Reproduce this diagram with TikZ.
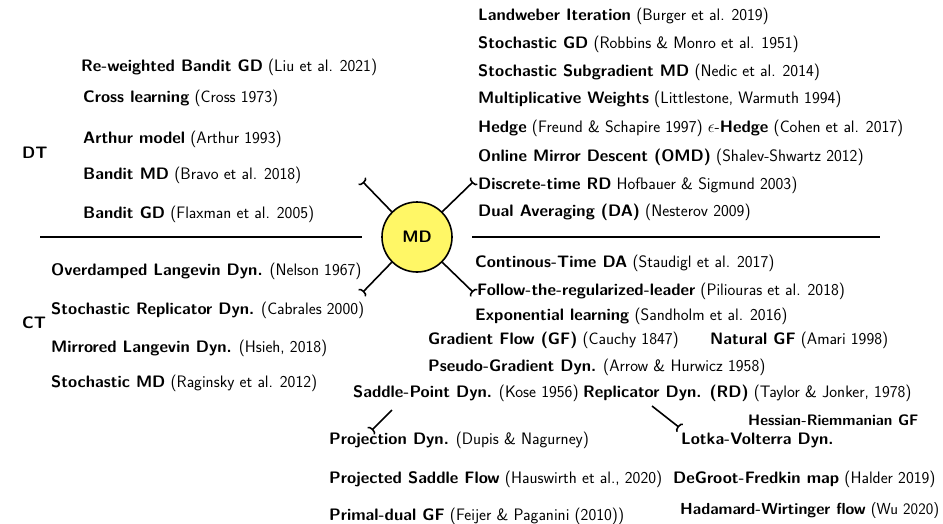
\documentclass[tikz,border=0pt]{standalone}
\usepackage{fontspec}
\usetikzlibrary{arrows.meta}
\newcommand{\ent}[2]{\textbf{#1} #2}
\begin{document}
\begin{tikzpicture}[x=1pt,y=-1pt,
  sz/.style={font=\fontsize{#1}{#1}\selectfont\sffamily},
  lbl/.style={anchor=west, inner sep=0pt, sz=16.6},
  conn/.style={line width=1.6pt, -{Arc Barb[reversed,length=3pt,width=11pt]}},
  rule/.style={line width=1.6pt},
  mdnode/.style={circle, draw, line width=1.6pt, fill=yellow!60, minimum size=70pt, inner sep=0pt,
    font=\fontsize{16.6}{19}\selectfont\sffamily\bfseries}]
\useasboundingbox (0,0) rectangle (943,523);

% central node and the DT / CT divider
\node[mdnode] (md) at (417,237) {MD};
\coordinate (ruleL) at (40,237);
\coordinate (ruleLe) at (362,237);
\coordinate (ruleRs) at (472,237);
\coordinate (ruleR) at (880,237);
\draw[rule] (ruleL) -- (ruleLe);
\draw[rule] (ruleRs) -- (ruleR);

% labels of the two halves
\node[lbl] (dt) at (22,153) {\textbf{DT}};
\node[lbl] (ct) at (22,323) {\textbf{CT}};

% discrete time, left
\node[lbl] (rwb) at (81,67)  {\ent{Re-weighted Bandit GD}{(Liu et al. 2021)}};
\node[lbl] (cro) at (83,98)  {\ent{Cross learning}{(Cross 1973)}};
\node[lbl] (art) at (83,139) {\ent{Arthur model}{(Arthur 1993)}};
\node[lbl] (bmd) at (83,175) {\ent{Bandit MD}{(Bravo et al. 2018)}};
\node[lbl] (bgd) at (83,214) {\ent{Bandit GD}{(Flaxman et al. 2005)}};

% discrete time, right
\node[lbl] (lwi) at (478,16)  {\ent{Landweber Iteration}{(Burger et al. 2019)}};
\node[lbl] (sgd) at (478,44)  {\ent{Stochastic GD}{(Robbins \& Monro et al. 1951)}};
\node[lbl] (ssm) at (478,72)  {\ent{Stochastic Subgradient MD}{(Nedic et al. 2014)}};
\node[lbl] (mwu) at (478,99)  {\ent{Multiplicative Weights}{(Littlestone, Warmuth 1994)}};
\node[lbl] (hdg) at (478,128) {\ent{Hedge}{(Freund \& Schapire 1997) $\epsilon$-\textbf{Hedge} (Cohen et al. 2017)}};
\node[lbl] (omd) at (478,157) {\ent{Online Mirror Descent (OMD)}{(Shalev-Shwartz 2012)}};
\node[lbl] (drd) at (478,185) {\ent{Discrete-time RD}{Hofbauer \& Sigmund 2003)}};
\node[lbl] (dav) at (478,212) {\ent{Dual Averaging (DA)}{(Nesterov 2009)}};

% continuous time, left
\node[lbl] (old) at (51,271) {\ent{Overdamped Langevin Dyn.}{(Nelson 1967)}};
\node[lbl] (srd) at (51,310) {\ent{Stochastic Replicator Dyn.}{(Cabrales 2000)}};
\node[lbl] (mld) at (51,348) {\ent{Mirrored Langevin Dyn.}{(Hsieh, 2018)}};
\node[lbl] (smd) at (51,383) {\ent{Stochastic MD}{(Raginsky et al. 2012)}};

% continuous time, right
\node[lbl] (ctd) at (475,263) {\ent{Continous-Time DA}{(Staudigl et al. 2017)}};
\node[lbl] (ftrl) at (477,291) {\ent{Follow-the-regularized-leader}{(Piliouras et al. 2018)}};
\node[lbl] (exl) at (475,316) {\ent{Exponential learning}{(Sandholm et al. 2016)}};
\node[lbl] (gfl) at (428,340) {\ent{Gradient Flow (GF)}{(Cauchy 1847)}};
\node[lbl] (ngf) at (710,340) {\ent{Natural GF}{(Amari 1998)}};
\node[lbl] (pgd) at (428,367) {\ent{Pseudo-Gradient Dyn.}{(Arrow \& Hurwicz 1958)}};
\node[lbl] (spd) at (353,393) {\ent{Saddle-Point Dyn.}{(Kose 1956)}};
\node[lbl] (rep) at (583,393) {\ent{Replicator Dyn. (RD)}{(Taylor \& Jonker, 1978)}};
\node[lbl, sz=15.2] (hrg) at (748,420) {\textbf{Hessian-Riemmanian GF}};
\node[lbl] (lvd) at (681,440) {\textbf{Lotka-Volterra Dyn.}};
\node[lbl] (prj) at (329,440) {\ent{Projection Dyn.}{(Dupis \& Nagurney)}};
\node[lbl] (psf) at (329,479) {\ent{Projected Saddle Flow}{(Hauswirth et al., 2020)}};
\node[lbl] (dgf) at (673,479) {\ent{DeGroot-Fredkin map}{(Halder 2019)}};
\node[lbl] (pdg) at (329,516) {\ent{Primal-dual GF}{(Feijer \& Paganini (2010))}};
\node[lbl, sz=16] (hwf) at (680,510) {\ent{Hadamard-Wirtinger flow}{(Wu 2020)}};

% connector ends
\coordinate (endTL) at (362,181);
\coordinate (endTR) at (474,181);
\coordinate (endBL) at (362,293);
\coordinate (endBR) at (474,293);
\coordinate (spdA) at (392,410);
\coordinate (spdB) at (371,431);
\coordinate (repA) at (652,406);
\coordinate (repB) at (680,428);

\draw[conn] (md.135) -- (endTL);
\draw[conn] (md.45)  -- (endTR);
\draw[conn] (md.225) -- (endBL);
\draw[conn] (md.315) -- (endBR);
\draw[conn] (spdA) -- (spdB);
\draw[conn] (repA) -- (repB);
\end{tikzpicture}
\end{document}
